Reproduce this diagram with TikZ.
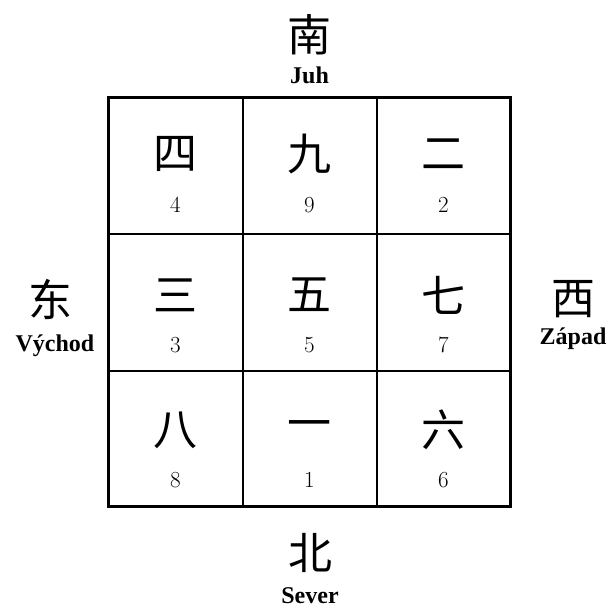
\documentclass[tikz,border=0pt]{standalone}
\usepackage{fontspec}
\setmainfont{Liberation Serif}
\newfontfamily\cjk{Noto Sans CJK SC}
\newfontfamily\digitfont{Latin Modern Roman}
\begin{document}
\begin{tikzpicture}[x=1pt,y=-1pt,
  hanzi/.style={font=\cjk\fontsize{44}{44}\selectfont, inner sep=0pt},
  numlbl/.style={font=\digitfont\fontsize{23}{23}\selectfont, inner sep=0pt},
  dirlbl/.style={font=\bfseries\fontsize{24}{24}\selectfont, inner sep=0pt},
  outer/.style={line width=3pt},
  inner/.style={line width=2pt}]
\useasboundingbox (0,0) rectangle (610,609);
% grid
\coordinate (g00) at (108.5,98);
\coordinate (g11) at (510.5,506);
\draw[inner] (242.5,98) -- (242.5,506);
\draw[inner] (376.5,98) -- (376.5,506);
\draw[inner] (108.5,234) -- (510.5,234);
\draw[inner] (108.5,371) -- (510.5,371);
\draw[outer] (g00) rectangle (g11);
% cells
\node[hanzi] (c4) at (175.5,154) {四};
\node[numlbl] (n4) at (175.5,205) {4};
\node[hanzi] (c9) at (309.5,154) {九};
\node[numlbl] (n9) at (309.5,205) {9};
\node[hanzi] (c2) at (443.5,154) {二};
\node[numlbl] (n2) at (443.5,205) {2};
\node[hanzi] (c3) at (175.5,295) {三};
\node[numlbl] (n3) at (175.5,345) {3};
\node[hanzi] (c5) at (309.5,295) {五};
\node[numlbl] (n5) at (309.5,345) {5};
\node[hanzi] (c7) at (443.5,295) {七};
\node[numlbl] (n7) at (443.5,345) {7};
\node[hanzi] (c8) at (175.5,430) {八};
\node[numlbl] (n8) at (175.5,480) {8};
\node[hanzi] (c1) at (309.5,430) {一};
\node[numlbl] (n1) at (309.5,480) {1};
\node[hanzi] (c6) at (443.5,430) {六};
\node[numlbl] (n6) at (443.5,480) {6};
% directions
\node[hanzi] (south) at (309.5,35) {南};
\node[dirlbl] (juh) at (309.5,75) {Juh};
\node[hanzi] (east) at (50,299) {东};
\node[dirlbl] (vychod) at (55,346) {Východ};
\node[hanzi] (west) at (573,299) {西};
\node[dirlbl] (zapad) at (573,339) {Západ};
\node[hanzi] (north) at (310,553) {北};
\node[dirlbl] (sever) at (310,596) {Sever};
\end{tikzpicture}
\end{document}
